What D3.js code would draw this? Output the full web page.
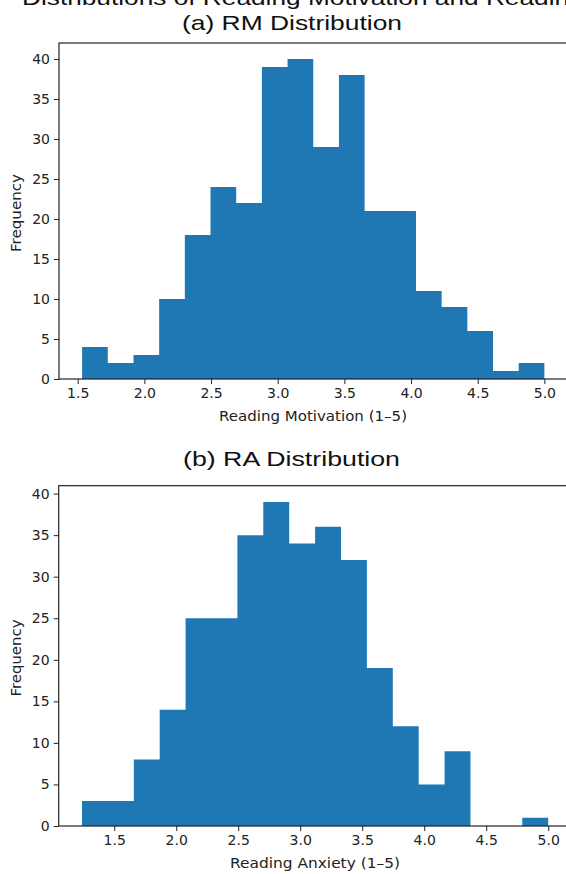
<!DOCTYPE html>
<html>
<head>
<meta charset="utf-8">
<script src="https://cdn.jsdelivr.net/npm/d3@7"></script>
<style>
  body { margin: 0; background: #fff; }
  svg { display: block; }
  .tick text { font-family: "DejaVu Sans", sans-serif; font-size: 14px; fill: #222; }
  .label { font-family: "DejaVu Sans", sans-serif; font-size: 13.5px; fill: #222; }
  .title { font-family: "Liberation Sans", Arial, sans-serif; font-size: 21px; fill: #111; }
</style>
</head>
<body>
<div id="app"></div>
<script>
'use strict'

// 18 bins per histogram
const rmCounts = [4, 2, 3, 10, 18, 24, 22, 39, 40, 29, 38, 21, 21, 11, 9, 6, 1, 2];
const raCounts = [3, 3, 8, 14, 25, 25, 35, 39, 34, 36, 32, 19, 12, 5, 9, 0, 0, 1];
const rmRange = [1.533, 5.0];
const raRange = [1.24, 5.0];
const xTicks = [1.5, 2.0, 2.5, 3.0, 3.5, 4.0, 4.5, 5.0];
const yTicks = [0, 5, 10, 15, 20, 25, 30, 35, 40];

const width = 566;
const height = 874;

let svg = (
  d3.select('#app')
    .append('svg')
    .attr('width', width)
    .attr('height', height));

function drawHist(cfg) {
  let counts = cfg.counts;
  let [lo, hi] = cfg.range;
  let n = counts.length;
  let step = (hi - lo) / n;
  let bins = counts.map((c, i) => ({x0: lo + i * step, x1: lo + (i + 1) * step, count: c}));
  let pad = (hi - lo) * 0.05;

  let x = d3.scaleLinear().domain([lo - pad, hi + pad]).range([cfg.left, cfg.right]);
  let y = d3.scaleLinear().domain([0, d3.max(counts) * 1.05]).range([cfg.bottom, cfg.top]);

  let g = svg.append('g');

  // Bars, drawn as one step outline so that no seams show between them
  let pts = [];
  bins.forEach((d) => {
    pts.push([d.x0, d.count], [d.x1, d.count]);
  });
  let outline = [[lo, 0], ...pts, [hi, 0]];
  (g.append('path')
      .datum(outline)
      .attr('d', d3.line().x((d) => x(d[0])).y((d) => y(d[1])))
      .attr('fill', '#1f77b4')
  );

  // Axes
  let xAxis = d3.axisBottom(x).tickValues(xTicks).tickFormat(d3.format('.1f')).tickSize(5).tickPadding(4);
  let yAxis = d3.axisLeft(y).tickValues(yTicks).tickSize(5).tickPadding(4);
  let gx = g.append('g').attr('transform', `translate(0,${cfg.bottom})`).call(xAxis);
  let gy = g.append('g').attr('transform', `translate(${cfg.left},0)`).call(yAxis);
  gx.select('.domain').remove();
  gy.select('.domain').remove();
  g.selectAll('.tick line').attr('stroke', '#222').attr('stroke-width', 1);

  // Spines (right one falls outside the picture)
  (g.append('rect')
      .attr('x', cfg.left)
      .attr('y', cfg.top)
      .attr('width', cfg.right - cfg.left)
      .attr('height', cfg.bottom - cfg.top)
      .attr('fill', 'none')
      .attr('stroke', '#222')
      .attr('stroke-width', 1.2)
  );

  // Title
  (g.append('text')
      .attr('class', 'title')
      .attr('x', cfg.titleX)
      .attr('y', cfg.titleY)
      .attr('textLength', cfg.titleLen)
      .attr('lengthAdjust', 'spacingAndGlyphs')
      .text(cfg.title)
  );

  // Axis labels
  (g.append('text')
      .attr('class', 'label')
      .attr('x', cfg.xLabelX)
      .attr('y', cfg.xLabelY)
      .attr('textLength', cfg.xLabelLen)
      .attr('lengthAdjust', 'spacingAndGlyphs')
      .text(cfg.xLabel)
  );
  (g.append('text')
      .attr('class', 'label')
      .attr('transform', `translate(21,${cfg.yLabelY}) rotate(-90)`)
      .attr('text-anchor', 'middle')
      .attr('textLength', cfg.yLabelLen)
      .attr('lengthAdjust', 'spacingAndGlyphs')
      .text('Frequency')
  );
}

drawHist({
  counts: rmCounts, range: rmRange,
  left: 59, right: 567.5, top: 43, bottom: 379,
  title: '(a) RM Distribution', titleX: 182, titleY: 29.5, titleLen: 220,
  xLabel: 'Reading Motivation (1–5)', xLabelX: 219, xLabelY: 421, xLabelLen: 188,
  yLabelY: 213, yLabelLen: 78,
});

drawHist({
  counts: raCounts, range: raRange,
  left: 58.7, right: 571.5, top: 485.7, bottom: 826,
  title: '(b) RA Distribution', titleX: 183, titleY: 465.5, titleLen: 217,
  xLabel: 'Reading Anxiety (1–5)', xLabelX: 230, xLabelY: 868, xLabelLen: 170,
  yLabelY: 658, yLabelLen: 77,
});

// Figure title, cut off at the top edge of the picture
(svg.append('text')
    .attr('class', 'title')
    .attr('transform', 'translate(22,5) scale(1.25,1)')
    .text('Distributions of Reading Motivation and Reading Anxiety')
);
</script>
</body>
</html>
